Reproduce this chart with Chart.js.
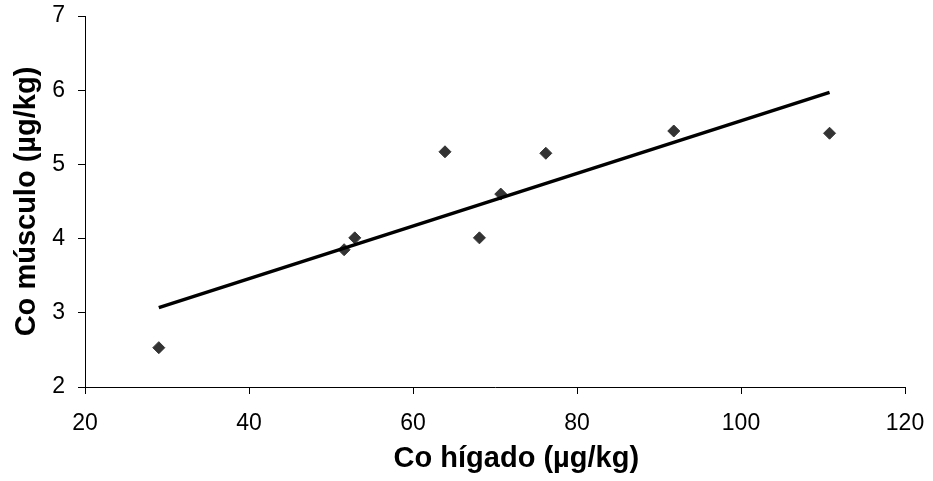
<!DOCTYPE html>
<html>
<head>
<meta charset="utf-8">
<script src="https://cdn.jsdelivr.net/npm/chart.js@4"></script>
<style>
    html, body { margin: 0; padding: 0; background: #ffffff; }
    #wrap { width: 933px; height: 481px; }
</style>
</head>
<body>
<div id="wrap"><canvas id="scatterChart" width="933" height="481"></canvas></div>
<script>
// Data
const higado = [29.0, 51.6, 52.9, 63.9, 68.1, 70.7, 76.2, 91.8, 110.8];
const musculo = [2.53, 3.85, 4.01, 5.17, 4.01, 4.60, 5.15, 5.45, 5.42];
// trend line end points
const trendX = [29.0, 110.8];
const trendY = [3.07, 5.97];
// axis ticks
const xTicks = [20, 40, 60, 80, 100, 120];
const yTicks = [2, 3, 4, 5, 6, 7];

const fontFamily = "'Liberation Sans', Arial, sans-serif";

// x title sits a bit right of the plot centre in the original
const xTitlePlugin = {
    id: 'xTitle',
    afterDraw(chart) {
        const area = chart.chartArea;
        const c = chart.ctx;
        c.save();
        c.fillStyle = '#000000';
        c.font = 'bold 29px ' + fontFamily;
        c.textAlign = 'center';
        c.textBaseline = 'alphabetic';
        c.fillText('Co hígado (µg/kg)', area.left + (area.right - area.left) * 0.526, 467);
        c.restore();
    }
};

// fixed box size, no extra padding for overflowing tick labels
function fixBox(scale, size) {
    if (scale.isHorizontal()) scale.height = size;
    else scale.width = size;
    scale.paddingTop = 0;
    scale.paddingBottom = 0;
    scale.paddingLeft = 0;
    scale.paddingRight = 0;
}

function initScatterChart() {
    const ctx = document.getElementById('scatterChart');
    if (!ctx) return;

    const points = higado.map((x, i) => ({ x: x, y: musculo[i] }));
    const trend = trendX.map((x, i) => ({ x: x, y: trendY[i] }));

    const config = {
        type: 'scatter',
        data: {
            datasets: [
                {
                    label: 'Co',
                    data: points,
                    pointStyle: 'rectRot',
                    pointRadius: 6,
                    pointBackgroundColor: '#333333',
                    pointBorderColor: '#333333',
                    pointBorderWidth: 1,
                    showLine: false,
                    order: 2
                },
                {
                    label: 'Tendencia',
                    data: trend,
                    showLine: true,
                    borderColor: '#000000',
                    borderWidth: 3.5,
                    pointRadius: 0,
                    fill: false,
                    order: 1
                }
            ]
        },
        options: {
            responsive: false,
            animation: false,
            layout: {
                padding: { top: 16, right: 28, left: 0, bottom: 0 }
            },
            plugins: {
                legend: { display: false },
                tooltip: { enabled: false }
            },
            scales: {
                x: {
                    type: 'linear',
                    min: 20,
                    max: 120,
                    afterBuildTicks: (scale) => { scale.ticks = xTicks.map(v => ({ value: v })); },
                    afterFit: (scale) => fixBox(scale, 94),
                    border: { display: true, color: '#000000', width: 1 },
                    grid: {
                        drawOnChartArea: false,
                        drawTicks: true,
                        tickLength: 7,
                        color: '#000000'
                    },
                    ticks: {
                        color: '#000000',
                        padding: 16,
                        maxRotation: 0,
                        font: { family: fontFamily, size: 23 }
                    },
                    title: { display: false }
                },
                y: {
                    type: 'linear',
                    min: 2,
                    max: 7,
                    afterBuildTicks: (scale) => { scale.ticks = yTicks.map(v => ({ value: v })); },
                    afterFit: (scale) => fixBox(scale, 85),
                    border: { display: true, color: '#000000', width: 1 },
                    grid: {
                        drawOnChartArea: false,
                        drawTicks: true,
                        tickLength: 7,
                        color: '#000000'
                    },
                    ticks: {
                        color: '#000000',
                        padding: 13,
                        font: { family: fontFamily, size: 23 }
                    },
                    title: {
                        display: true,
                        text: 'Co músculo (µg/kg)',
                        color: '#000000',
                        padding: { top: 10, bottom: 0 },
                        font: { family: fontFamily, size: 29, weight: 'bold' }
                    }
                }
            }
        },
        plugins: [xTitlePlugin]
    };

    window.scatterChartInstance = new Chart(ctx, config);
}

document.addEventListener('DOMContentLoaded', initScatterChart);
</script>
</body>
</html>
